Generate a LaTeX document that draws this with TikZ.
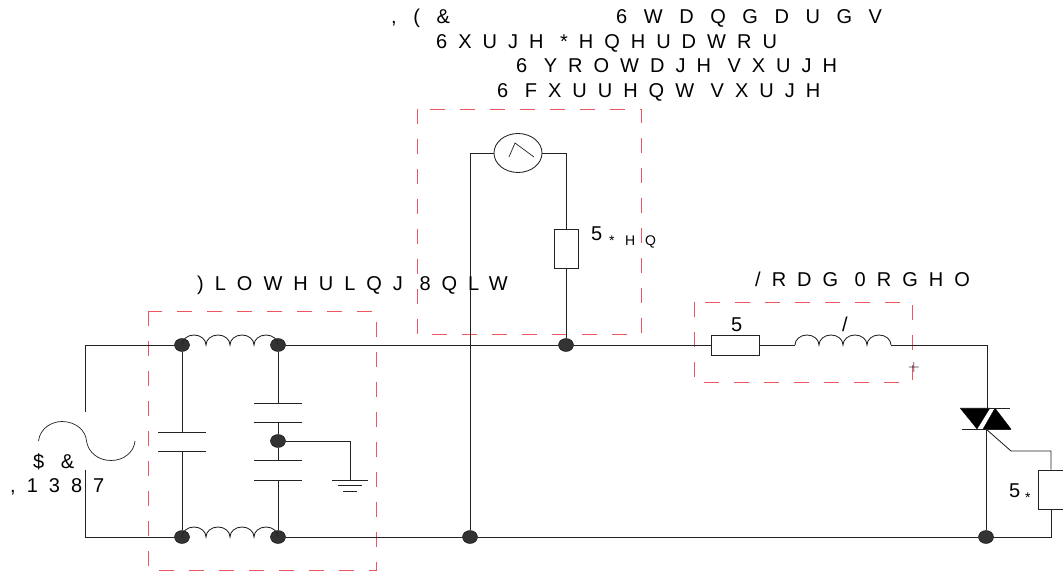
\documentclass[tikz,border=0pt]{standalone}
\usepackage{fontspec}
\usetikzlibrary{shapes.geometric}
\newfontfamily\lblfont[LetterSpace=55]{Liberation Sans}
\newfontfamily\subfont[LetterSpace=70]{Liberation Sans}
\definecolor{wire}{HTML}{222222}
\definecolor{boxred}{HTML}{EE5560}
\definecolor{jfill}{HTML}{333333}
\tikzset{
  wiring/.style={draw=wire,line width=0.85pt},
  junc/.style={ellipse,draw=black,fill=jfill,line width=0.4pt,minimum width=15pt,minimum height=13pt,inner sep=0pt},
  resbox/.style={rectangle,draw=wire,fill=white,line width=0.85pt,inner sep=0pt},
  redbox/.style={draw=boxred,line width=0.9pt,dash pattern=on 15pt off 15pt},
  lbl/.style={anchor=base west,inner sep=0pt,font=\fontsize{20}{20}\selectfont\lblfont},
  sublbl/.style={anchor=base west,inner sep=0pt,font=\fontsize{14}{14}\selectfont\subfont},
  solid triac/.style={fill=black,draw=black,line width=0.2pt}
}
\newcommand{\humps}{arc[start angle=180,end angle=0,x radius=12pt,y radius=10pt] arc[start angle=180,end angle=0,x radius=12pt,y radius=10pt] arc[start angle=180,end angle=0,x radius=12pt,y radius=10pt] arc[start angle=180,end angle=0,x radius=12pt,y radius=10pt]}
\begin{document}
\begin{tikzpicture}[x=1pt,y=-1pt]
\useasboundingbox (0,0) rectangle (1063,577);
% dashed frames
\draw[redbox] (148,311) rectangle (376,570);
\draw[redbox] (417,109) rectangle (641,334);
\draw[redbox] (694,302) rectangle (912,382);
% junctions
\node[junc] (jt1) at (182,345) {};
\node[junc] (jt2) at (278,345) {};
\node[junc] (jt3) at (566,345) {};
\node[junc] (jb1) at (182,537) {};
\node[junc] (jb2) at (278,537) {};
\node[junc] (jb3) at (470,537) {};
\node[junc] (jb4) at (986,537) {};
\node[junc] (jm)  at (278,441) {};
% components
\node[resbox,minimum width=48pt,minimum height=20pt] (rl) at (735,345) {};
\node[resbox,minimum width=24pt,minimum height=39pt] (rgen) at (566,248.5) {};
\node[resbox,minimum width=26pt,minimum height=39pt] (rg) at (1051,489.5) {};
\node[ellipse,draw=wire,line width=0.85pt,minimum width=48pt,minimum height=39pt,inner sep=0pt] (osc) at (518,153) {};
% named points
\coordinate (lt) at (85,345);
\coordinate (lb) at (85,537);
\coordinate (sa) at (85,412);
\coordinate (sb) at (85,470);
\coordinate (c1a) at (182,432);
\coordinate (c1b) at (182,451);
\coordinate (c2a) at (278,403);
\coordinate (c2b) at (278,422.5);
\coordinate (c3a) at (278,460.5);
\coordinate (c3b) at (278,480);
\coordinate (gnd) at (350,480);
\coordinate (lla) at (795,345);
\coordinate (llb) at (891,345);
\coordinate (tt) at (987,408);
\coordinate (tb) at (986,429);
\coordinate (gk) at (1011,451);
\coordinate (rgk) at (1051,451);
\coordinate (rgb) at (1051,537);
% wiring
\draw[wiring] (sa) -- (lt) -- (jt1);
\draw[wiring] (sb) -- (lb) -- (jb1);
\draw[wiring] (jt2) -- (jt3) -- (rl);
\draw[wiring] (jb2) -- (jb3) -- (jb4) -- (rgb) -- (rg);
\draw[wiring] (rl) -- (lla);
\draw[wiring] (llb) -| (tt);
\draw[wiring] (182,345) \humps;
\draw[wiring] (182,537) \humps;
\draw[wiring] (lla) \humps;
\draw[wiring] (jt1) -- (c1a) (c1b) -- (jb1);
\draw[wiring] (jt2) -- (c2a) (c2b) -- (jm) -- (c3a) (c3b) -- (jb2);
\draw[wiring,line width=1pt] ([xshift=-24pt]c1a) -- ([xshift=24pt]c1a) ([xshift=-24pt]c1b) -- ([xshift=24pt]c1b);
\draw[wiring,line width=1pt] ([xshift=-24pt]c2a) -- ([xshift=24pt]c2a) ([xshift=-24pt]c2b) -- ([xshift=24pt]c2b);
\draw[wiring,line width=1pt] ([xshift=-24pt]c3a) -- ([xshift=24pt]c3a) ([xshift=-24pt]c3b) -- ([xshift=24pt]c3b);
\draw[wiring] (jm) -| (gnd);
\draw[wiring,line width=1pt] ([xshift=-18pt]gnd) -- ([xshift=18pt]gnd);
\draw[wiring] ([xshift=-12pt,yshift=-5.5pt]gnd) -- ([xshift=12pt,yshift=-5.5pt]gnd);
\draw[wiring] ([xshift=-7pt,yshift=-11pt]gnd) -- ([xshift=7pt,yshift=-11pt]gnd);
% generator branch
\draw[wiring] (osc) -| (jb3);
\draw[wiring] (osc) -| (rgen);
\draw[wiring] (rgen) -- (jt3);
\draw[wiring,line width=0.7pt] (509,157) -- (515,143) -- (534,157);
% AC source wave
\draw[wiring,line width=0.7pt] (38.5,441) .. controls (40,428) and (52,421.5) .. (62,421.5) .. controls (76,421.5) and (86,431) .. (86.5,441) .. controls (88,452) and (98,460.5) .. (111,460.5) .. controls (124,460.5) and (134,452) .. (135,441);
% triac
\fill[solid triac] (960,408) -- (990,408) -- (977,429) -- cycle;
\fill[solid triac] (995,408) -- (1011,429) -- (983,429) -- cycle;
\draw[wiring] (960,408) -- (1010,408);
\draw[wiring] (962,429) -- (1011,429);
\draw[wiring] (tb) -- (jb4);
\draw[wiring] (tb) -- (gk) -- (rgk) -- (rg);
% texts
\node[lbl] (t1) at (391,24) {, ( \&};
\node[lbl] (t2) at (616,24) {6 W D Q G D U G V};
\node[lbl] (t3) at (436,49) {6XUJH *HQHUDWRU};
\node[lbl] (t4) at (516,73) {6 YROWDJH VXUJH};
\node[lbl] (t5) at (497,98) {6 FXUUHQW VXUJH};
\node[lbl] (t6) at (197,291) {)LOWHULQJ 8QLW};
\node[lbl] (t7) at (755,287) {/RDG 0RGHO};
\node[lbl] (t8) at (731,331) {5};
\node[lbl] (t9) at (842,331) {/};
\node[lbl] (t10) at (33,468) {\$ \&};
\node[lbl] (t11) at (10,492) {,1387};
\node[lbl] (t12) at (591,241) {5};
\node[sublbl] (t13) at (609,246) {*};
\node[sublbl] (t14) at (625,246) {HQ};
\node[lbl] (t15) at (1009,497) {5};
\node[sublbl] (t16) at (1025,502) {*};
\node[anchor=center,inner sep=0pt,font=\fontsize{16}{16}\selectfont\rmfamily\sffamily] (t17) at (914,368) {+};
\end{tikzpicture}
\end{document}
